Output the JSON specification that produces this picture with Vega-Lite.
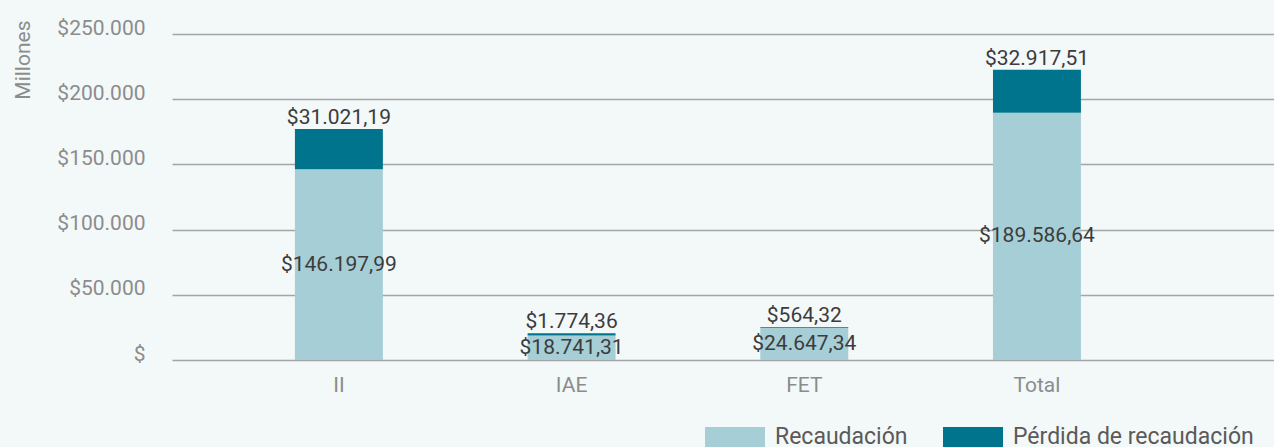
{
  "$schema": "https://vega.github.io/schema/vega-lite/v6.json",
  "width": 1102,
  "height": 326,
  "autosize": {"type": "none"},
  "padding": {"left": 172, "top": 34, "right": 0, "bottom": 87},
  "background": "#f3f8f9",
  "config": {
    "locale": {"number": {"decimal": ",", "thousands": ".", "grouping": [3], "currency": ["$", ""]}},
    "view": {"stroke": null},
    "font": "Roboto",
    "axisY": {
      "grid": true,
      "gridColor": "#a5a5a5",
      "gridWidth": 1.5,
      "domain": false,
      "ticks": false,
      "labelPadding": 27,
      "labelFontSize": 21,
      "labelFont": "Roboto",
      "labelColor": "#8c8c8c",
      "labelBaseline": "alphabetic",
      "titleFontSize": 21,
      "titleFont": "Roboto",
      "titleFontWeight": "normal",
      "titleColor": "#8c8c8c",
      "titleAlign": "right",
      "titleAngle": -90,
      "titleBaseline": "middle",
      "titleX": -149,
      "titleY": -14
    }
  },
  "data": {
    "values": [
      {"categoria": "II", "serie": "Recaudación", "valor": 146197.99},
      {"categoria": "II", "serie": "Pérdida de recaudación", "valor": 31021.19},
      {"categoria": "IAE", "serie": "Recaudación", "valor": 18741.31},
      {"categoria": "IAE", "serie": "Pérdida de recaudación", "valor": 1774.36},
      {"categoria": "FET", "serie": "Recaudación", "valor": 24647.34},
      {"categoria": "FET", "serie": "Pérdida de recaudación", "valor": 564.32},
      {"categoria": "Total", "serie": "Recaudación", "valor": 189586.64},
      {"categoria": "Total", "serie": "Pérdida de recaudación", "valor": 32917.51}
    ]
  },
  "transform": [
    {"stack": "valor", "groupby": ["categoria"], "sort": [{"field": "serie", "order": "descending"}], "as": ["v0", "v1"]},
    {"calculate": "(datum.v0 + datum.v1) / 2", "as": "vmid"}
  ],
  "encoding": {
    "x": {
      "field": "categoria",
      "type": "nominal",
      "sort": ["II", "IAE", "FET", "Total"],
      "scale": {"paddingInner": 0.622, "paddingOuter": 0.679, "align": 0.389},
      "axis": {
        "title": null,
        "labelAngle": 0,
        "domain": false,
        "ticks": false,
        "labelColor": "#8c8c8c",
        "labelFontSize": 21,
        "labelFont": "Roboto",
        "labelPadding": 14
      }
    }
  },
  "layer": [
    {
      "mark": {"type": "bar"},
      "encoding": {
        "y": {
          "field": "v1",
          "type": "quantitative",
          "title": "Millones",
          "scale": {"domain": [0, 250000], "nice": false},
          "axis": {
            "values": [0, 50000, 100000, 150000, 200000, 250000],
            "format": "$,.0f",
            "labelExpr": "datum.value == 0 ? '$' : datum.label"
          }
        },
        "y2": {"field": "v0"},
        "color": {
          "field": "serie",
          "type": "nominal",
          "scale": {"domain": ["Recaudación", "Pérdida de recaudación"], "range": ["#a6ced6", "#00748c"]},
          "legend": {
            "title": null,
            "orient": "none",
            "direction": "horizontal",
            "legendX": 533,
            "legendY": 373,
            "symbolType": "M-1,-0.333L1,-0.333L1,0.333L-1,0.333Z",
            "symbolSize": 3600,
            "symbolStrokeWidth": 0,
            "labelFontSize": 23,
            "labelFont": "Roboto",
            "labelColor": "#5a5a5a",
            "labelOffset": 10,
            "columnPadding": 35,
            "labelLimit": 400
          }
        }
      }
    },
    {
      "transform": [{"filter": "datum.serie == 'Recaudación'"}],
      "mark": {"type": "text", "fontSize": 21, "font": "Roboto", "color": "#3c3c3c", "baseline": "middle"},
      "encoding": {
        "y": {
          "field": "vmid",
          "type": "quantitative",
          "title": "Millones",
          "axis": {
            "values": [0, 50000, 100000, 150000, 200000, 250000],
            "format": "$,.0f",
            "labelExpr": "datum.value == 0 ? '$' : datum.label"
          }
        },
        "text": {"field": "valor", "type": "quantitative", "format": "$,.2f"}
      }
    },
    {
      "transform": [{"filter": "datum.serie == 'Pérdida de recaudación'"}],
      "mark": {"type": "text", "fontSize": 21, "font": "Roboto", "color": "#3c3c3c", "baseline": "alphabetic", "dy": -5},
      "encoding": {
        "y": {
          "field": "v1",
          "type": "quantitative",
          "title": "Millones",
          "axis": {
            "values": [0, 50000, 100000, 150000, 200000, 250000],
            "format": "$,.0f",
            "labelExpr": "datum.value == 0 ? '$' : datum.label"
          }
        },
        "text": {"field": "valor", "type": "quantitative", "format": "$,.2f"}
      }
    }
  ]
}
